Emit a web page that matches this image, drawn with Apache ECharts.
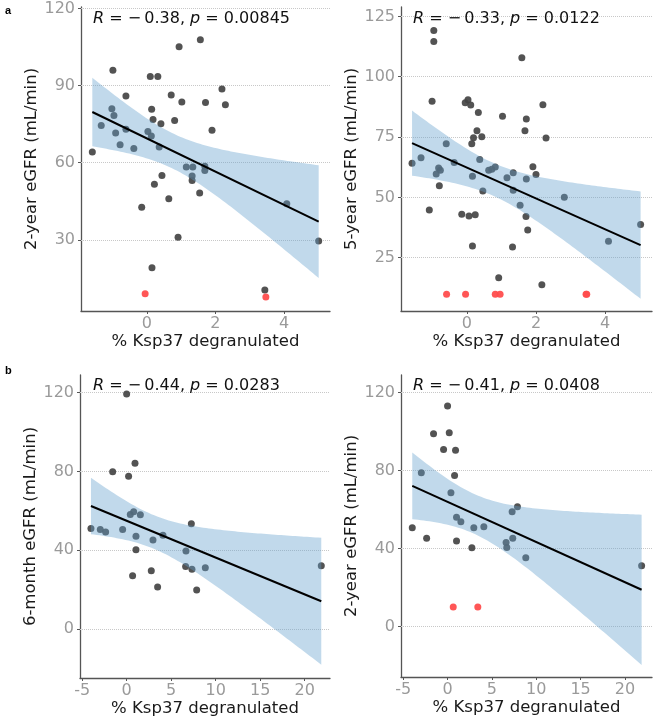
<!DOCTYPE html>
<html><head><meta charset="utf-8">
<script src="https://cdn.jsdelivr.net/npm/echarts@6/dist/echarts.min.js"></script>
<style>html,body{margin:0;padding:0;background:#fff}#c{width:657px;height:720px}</style>
</head><body><div id="c"></div>
<script>
// ---------- data ----------
// Panel a-left: 2-year eGFR
const x1 = [-1.59,-1.33,-1.02,-0.96,-0.99,-0.91,-0.61,-0.61,-0.78,-0.38,-0.15,0.03,0.13,0.10,0.32,0.14,0.18,0.36,0.41,0.44,0.22,0.15,0.64,0.71,0.81,0.94,1.02,0.91,1.15,1.34,1.32,1.32,1.56,1.54,1.69,1.69,1.71,1.90,2.19,2.29,4.08,5.01,3.44];
const y1 = [64.2,74.5,81,78.4,96,71.6,86,73,67,65.5,42.7,72.2,70.4,93.6,93.6,80.8,76.8,66.1,75.2,55,51.6,19.1,46,86.4,76.4,105.1,83.6,31,58.3,58.3,54.8,53.1,107.9,48.2,58.6,57,83.4,72.6,88.7,82.6,44,29.5,10.5];
const red1x = [-0.05, 3.47];
const red1y = [9.0, 7.7];
// Panel a-right: 5-year eGFR
const x2 = [-1.59,-1.33,-1.09,-1.01,-0.96,-0.96,-0.89,-0.82,-0.77,-0.80,-0.60,-0.37,-0.15,-0.05,0.03,0.11,0.06,0.14,0.16,0.19,0.16,0.24,0.29,0.33,0.37,0.43,0.46,0.63,0.72,0.82,0.92,1.03,1.16,1.32,1.34,1.34,1.54,1.59,1.68,1.72,1.72,1.71,1.76,1.91,2.00,2.17,2.20,2.29,2.82,4.10,5.03];
const y2 = [64.1,66.4,44.8,89.8,119.2,114.6,59.7,62.2,61.2,54.8,72.2,64.4,43,89.2,90.5,88.3,42.3,72.2,58.8,74.7,29.8,42.8,77.6,85.2,65.7,75.1,52.6,61.2,61.7,62.6,16.7,83.6,58.1,29.4,60.2,52.9,46.7,107.9,77.6,82.5,57.6,42.1,36.5,62.7,59.5,13.8,88.4,74.6,50,31.8,38.8];
const red2x = [-0.59,-0.04,0.82,0.96,3.45,3.47];
const red2y = [9.8,9.8,9.8,9.8,9.8,9.8];
// Panel b-left: 6-month eGFR
const x3 = [-4.01,-2.96,-2.36,-1.57,-0.45,0,0.22,0.41,0.79,0.94,0.67,1.05,1.05,1.54,2.77,2.96,3.48,4.08,6.67,6.63,7.27,7.34,7.87,8.84,21.87];
const y3 = [51,50.5,49.2,79.8,50.5,119.3,77.6,58.1,59.5,84.1,27,47.1,40.2,58,29.5,45.1,21.2,47.6,39.5,31.7,53.4,30.3,19.7,31,32];
const red3x = [];
const red3y = [];
// Panel b-right: 2-year eGFR
const x4 = [-3.98,-2.96,-2.36,-1.58,-0.45,0,0.19,0.38,0.79,0.9,1.01,1.01,1.5,2.74,2.96,4.09,6.6,6.68,7.28,7.35,7.88,8.82,21.88];
const y4 = [50.7,78.9,45.3,98.9,90.9,113.2,99.5,68.6,77.5,90.4,56.1,43.8,53.7,40.4,50.7,51.2,43.1,40.5,58.9,45.2,61.4,35.2,31.1];
const red4x = [0.64, 3.41];
const red4y = [9.9, 9.9];

const rLabels = ['\u2212\u20090.38', '\u2212\u20090.33', '\u2212\u20090.44', '\u2212\u20090.41'];
const pLabels = ['0.00845', '0.0122', '0.0283', '0.0408'];
const yTitles = ['2-year eGFR (mL/min)', '5-year eGFR (mL/min)', '6-month eGFR (mL/min)', '2-year eGFR (mL/min)'];
const xTitle = '% Ksp37 degranulated';
const panelLetters = ['a', 'b'];
const yTicks1 = [30, 60, 90, 120];
const yTicks2 = [25, 50, 75, 100, 125];
const yTicks34 = [0, 40, 80, 120];
const xTicks12 = [0, 2, 4];
const xTicks34 = [-5, 0, 5, 10, 15, 20];

// ---------- layout ----------
const grids = [
  {left: 81, top: 7, width: 249, height: 304},
  {left: 401, top: 7, width: 251, height: 304},
  {left: 80, top: 375, width: 250, height: 303},
  {left: 401, top: 375, width: 251, height: 302}
];
const xRanges = [[-1.92, 5.34], [-1.91, 5.36], [-5.24, 22.85], [-5.25, 23.05]];
const yRanges = [[2.3, 120.6], [2.9, 128.9], [-25, 129], [-26, 129.1]];
const annPos = [[93, 21], [413, 21], [93, 388], [413, 388]];

const panels = [
  {x: x1, y: y1, rx: red1x, ry: red1y, yt: yTicks1, xt: xTicks12},
  {x: x2, y: y2, rx: red2x, ry: red2y, yt: yTicks2, xt: xTicks12},
  {x: x3, y: y3, rx: red3x, ry: red3y, yt: yTicks34, xt: xTicks34},
  {x: x4, y: y4, rx: red4x, ry: red4y, yt: yTicks34, xt: xTicks34}
];

function tq(df) {
  const z = 1.959964;
  return z + (z**3 + z) / (4*df) + (5*z**5 + 16*z**3 + 3*z) / (96*df*df)
    + (3*z**7 + 19*z**5 + 17*z**3 - 15*z) / (384*df**3);
}
function fit(xs, ys) {
  const n = xs.length;
  const mx = xs.reduce((a, b) => a + b, 0) / n;
  const my = ys.reduce((a, b) => a + b, 0) / n;
  let sxx = 0, sxy = 0;
  for (let i = 0; i < n; i++) { sxx += (xs[i]-mx)**2; sxy += (xs[i]-mx)*(ys[i]-my); }
  const b = sxy / sxx, a = my - b*mx;
  let sse = 0;
  for (let i = 0; i < n; i++) sse += (ys[i] - a - b*xs[i])**2;
  const s = Math.sqrt(sse / (n-2)), t = tq(n-2);
  const x0 = Math.min(...xs), x1m = Math.max(...xs);
  const band = [];
  const N = 80;
  for (let k = 0; k <= N; k++) {
    const x = x0 + (x1m - x0) * k / N;
    const yh = a + b*x;
    const se = s * Math.sqrt(1/n + (x-mx)**2 / sxx);
    band.push([x, yh - t*se, yh + t*se]);
  }
  return {line: [[x0, a + b*x0], [x1m, a + b*x1m]], band};
}

const FONT = 'DejaVu Sans';
const option = {
  animation: false,
  backgroundColor: '#fff',
  grid: grids.map(g => Object.assign({containLabel: false}, g)),
  xAxis: panels.map((p, i) => ({
    type: 'value', gridIndex: i, min: xRanges[i][0], max: xRanges[i][1],
    name: xTitle, nameLocation: 'middle', nameGap: 22,
    nameTextStyle: {fontFamily: FONT, fontSize: 16.5, color: '#1a1a1a'},
    axisLine: {show: true, onZero: false, lineStyle: {color: '#555', width: 1.3}},
    axisTick: {show: true, length: 3, lineStyle: {color: '#555'}, customValues: p.xt},
    axisLabel: {color: '#9a9a9a', fontFamily: FONT, fontSize: 16, margin: 5, customValues: p.xt},
    splitLine: {show: false}
  })),
  yAxis: panels.map((p, i) => ({
    type: 'value', gridIndex: i, min: yRanges[i][0], max: yRanges[i][1],
    name: yTitles[i], nameLocation: 'middle', nameGap: 38,
    nameTextStyle: {fontFamily: FONT, fontSize: 16.5, color: '#1a1a1a'},
    axisLine: {show: true, onZero: false, lineStyle: {color: '#555', width: 1.3}},
    axisTick: {show: true, length: 3, lineStyle: {color: '#555'}, customValues: p.yt},
    axisLabel: {color: '#9a9a9a', fontFamily: FONT, fontSize: 16, margin: 6, customValues: p.yt},
    splitLine: {show: false}
  })),
  series: [],
  graphic: []
};

panels.forEach((p, i) => {
  const allX = p.x.concat(p.rx), allY = p.y.concat(p.ry);
  const f = fit(allX, allY);
  // gridlines
  option.series.push({
    type: 'line', xAxisIndex: i, yAxisIndex: i, data: f.line, showSymbol: false,
    lineStyle: {opacity: 0}, silent: true, z: 1,
    markLine: {silent: true, z: 1, symbol: ['none', 'none'], label: {show: false},
      lineStyle: {type: 'dotted', color: '#c8c8c8', width: 1},
      data: p.yt.map(v => ({yAxis: v}))}
  });
  option.series.push({
    type: 'scatter', xAxisIndex: i, yAxisIndex: i, symbolSize: 7, z: 2,
    itemStyle: {color: '#444', opacity: 0.92},
    data: p.x.map((v, k) => [v, p.y[k]])
  });
  if (p.rx.length) option.series.push({
    type: 'scatter', xAxisIndex: i, yAxisIndex: i, symbolSize: 7, z: 2,
    itemStyle: {color: '#ff4d4d', opacity: 0.95},
    data: p.rx.map((v, k) => [v, p.ry[k]])
  });
  const band = f.band;
  option.series.push({
    type: 'custom', xAxisIndex: i, yAxisIndex: i, z: 3, silent: true,
    data: band.map(b => [b[0], b[1], b[2]]),
    renderItem: function (params, api) {
      if (params.dataIndex !== 0) return {type: 'group', children: []};
      const pts = [];
      band.forEach(b => pts.push(api.coord([b[0], b[2]])));
      for (let k = band.length - 1; k >= 0; k--) pts.push(api.coord([band[k][0], band[k][1]]));
      return {type: 'polygon', shape: {points: pts},
        style: {fill: 'rgba(100,160,205,0.4)', stroke: 'none'}};
    }
  });
  option.series.push({
    type: 'line', xAxisIndex: i, yAxisIndex: i, data: f.line, showSymbol: false, z: 4,
    lineStyle: {color: '#000', width: 2}, silent: true
  });
  option.graphic.push({
    type: 'text', left: annPos[i][0], top: annPos[i][1] - 10, z: 10,
    style: {
      text: '{i|R} = ' + rLabels[i] + ', {i|p} = ' + pLabels[i],
      font: '16px "DejaVu Sans"', fill: '#111',
      rich: {i: {fontStyle: 'italic', fontFamily: FONT, fontSize: 16, fill: '#111'}}
    }
  });
});
option.graphic.push({type: 'text', left: 5, top: 5, style: {text: panelLetters[0], font: 'bold 11px Arial', fill: '#000'}});
option.graphic.push({type: 'text', left: 5, top: 365, style: {text: panelLetters[1], font: 'bold 11px Arial', fill: '#000'}});

const chart = echarts.init(document.getElementById('c'), null, {renderer: 'canvas'});
chart.setOption(option);
</script>
</body></html>
